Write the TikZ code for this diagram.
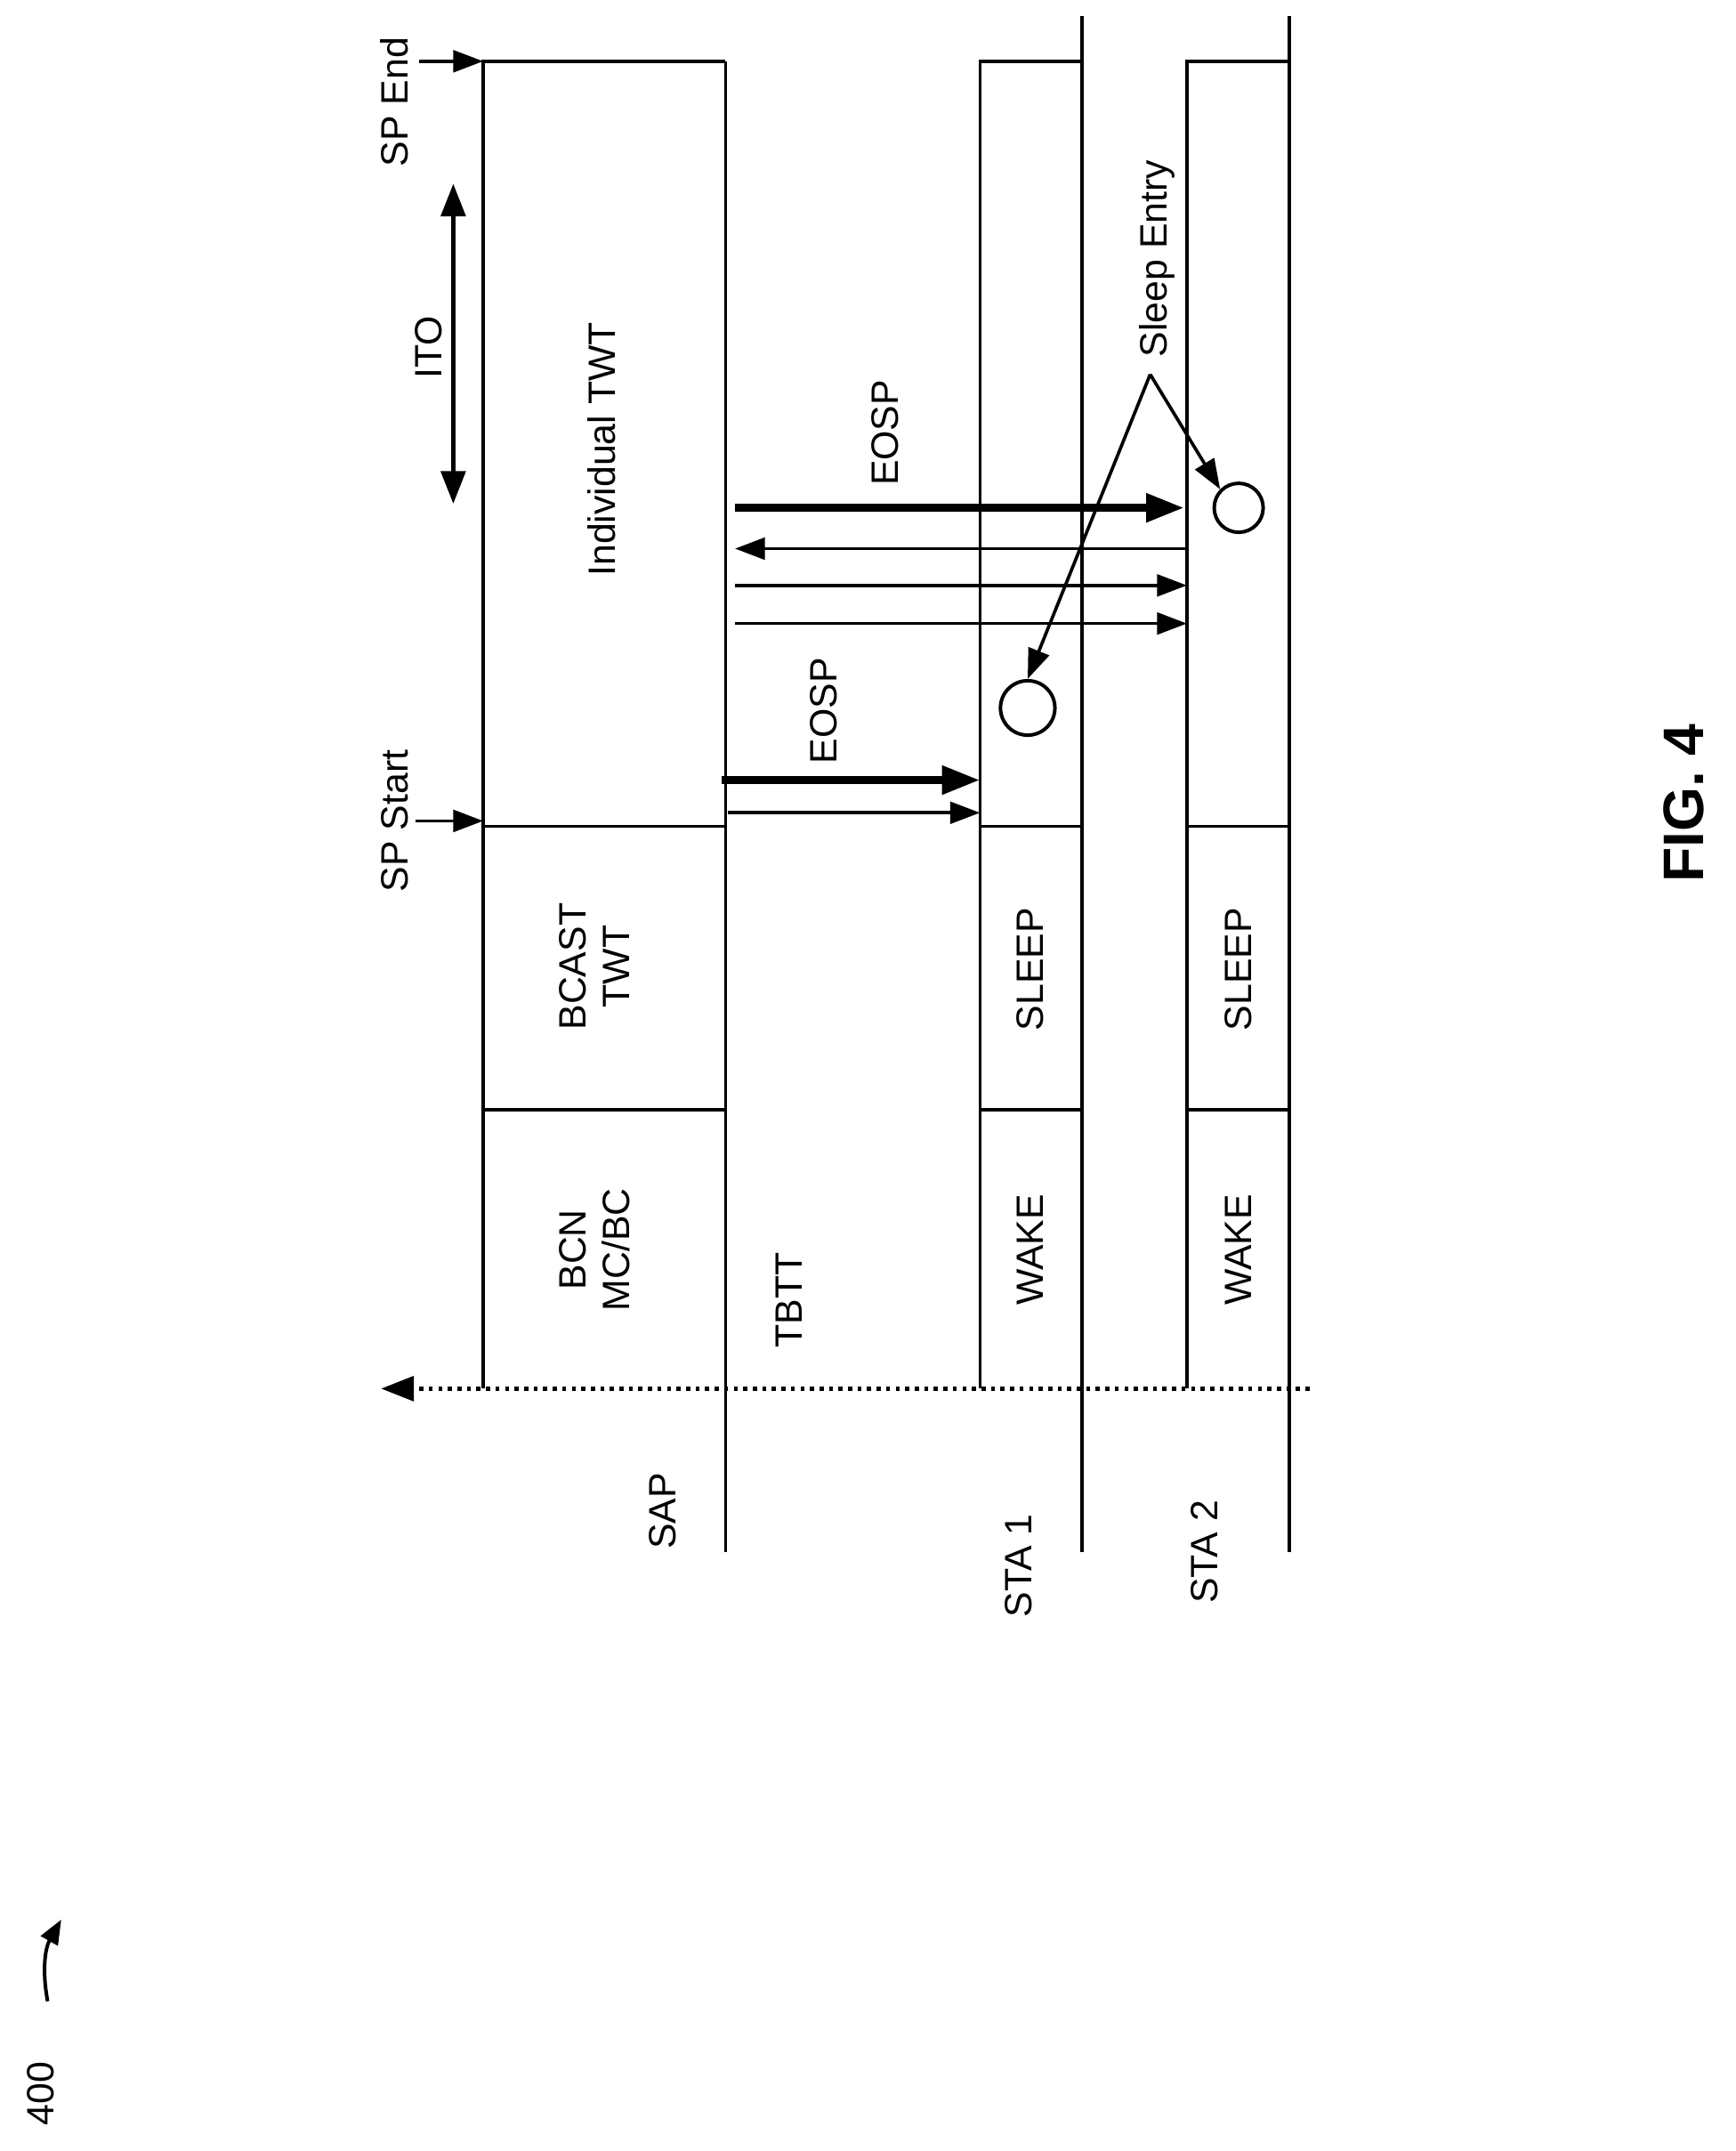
\documentclass[tikz,border=0pt]{standalone}
\usepackage{fontspec}
\setmainfont{Liberation Sans}
\usetikzlibrary{arrows.meta}
\begin{document}
\begin{tikzpicture}[x=0.5pt,y=-0.5pt,
  lab/.style={rotate=90,font=\fontsize{14}{16}\selectfont,align=center},
  ln/.style={line width=1.2pt},
  thin/.style={line width=1.2pt,-{Triangle[length=11pt,width=8pt]}},
  thick/.style={line width=3pt,-{Triangle[length=14pt,width=10pt]}}]
\useasboundingbox (0,0) rectangle (1275,1580);
% SAP
\draw[ln] (355,1020) -- (355,45) -- (533,45);
\draw[ln] (533,45) -- (533,1140);
\draw[ln] (355,607) -- (533,607);
\draw[ln] (355,815) -- (533,815);
% STA1
\draw[ln] (720,1020) -- (720,45) -- (795,45);
\draw[ln] (795,12) -- (795,1140);
\draw[ln] (720,607) -- (795,607) (720,815) -- (795,815);
% STA2
\draw[ln] (872,1020) -- (872,45) -- (947,45);
\draw[ln] (947,12) -- (947,1140);
\draw[ln] (872,607) -- (947,607) (872,815) -- (947,815);
% dotted
\coordinate (dl) at (280,1020); \coordinate (dr) at (962,1020);
\draw[line width=1.5pt,dotted,-{Triangle[length=12pt,width=9pt]}] (dr) -- (dl);
% labels
\node[lab] (sap) at (487,1110) {SAP};
\node[lab] (sta1) at (748,1150) {STA 1};
\node[lab] (sta2) at (885,1140) {STA 2};
\node[lab] (tbtt) at (580,955) {TBTT};
\node[lab] (bcn) at (437,918) {BCN\\MC/BC};
\node[lab] (bcast) at (437,710) {BCAST\\TWT};
\node[lab] (w1) at (757,918) {WAKE};
\node[lab] (w2) at (910,918) {WAKE};
\node[lab] (s1) at (757,712) {SLEEP};
\node[lab] (s2) at (910,712) {SLEEP};
\node[lab] (itwt) at (442,330) {Individual TWT};
\node[lab] (ito) at (315,255) {ITO};
\node[lab] (spst) at (290,603) {SP Start};
\node[lab] (spend) at (290,75) {SP End};
\node[lab] (eosp1) at (605,522) {EOSP};
\node[lab] (eosp2) at (650,318) {EOSP};
\node[lab] (se) at (850,190) {Sleep Entry};
\node[rotate=90,font=\bfseries\fontsize{21}{24}\selectfont] (fig) at (1237,590) {FIG. 4};
\node[lab] (n400) at (30,1538) {400};
% ITO arrow
\coordinate (i1) at (333,135); \coordinate (i2) at (333,370);
\draw[line width=1.5pt,{Triangle[length=12pt,width=9pt]}-{Triangle[length=12pt,width=9pt]}] (i1) -- (i2);
% SP arrows
\coordinate (a1) at (305,603); \coordinate (a2) at (355,603);
\draw[thin] (a1) -- (a2);
\coordinate (b1) at (308,45); \coordinate (b2) at (355,45);
\draw[thin] (b1) -- (b2);
% data arrows STA1
\draw[thin] (535,597) -- (720,597);
\draw[thick] (530,573) -- (720,573);
% STA2
\draw[thin] (540,458) -- (872,458);
\draw[thin] (540,430) -- (872,430);
\draw[thin] (872,403) -- (540,403);
\draw[thick] (540,373) -- (870,373);
% circles
\node[draw,circle,line width=1.3pt,minimum size=20pt,inner sep=0] (c1) at (755,520) {};
\node[draw,circle,line width=1.3pt,minimum size=18pt,inner sep=0] (c2) at (910,373) {};
\coordinate (sj) at (845,275);
\draw[thin] (sj) -- (c1.north);
\draw[thin] (sj) -- (c2.north west);
% 400 arrow
\coordinate (q1) at (35,1470); \coordinate (q2) at (45,1410);
\draw[line width=1.3pt,-{Triangle[length=9pt,width=7pt]}] (q1) to[bend left=20] (q2);
\end{tikzpicture}
\end{document}
